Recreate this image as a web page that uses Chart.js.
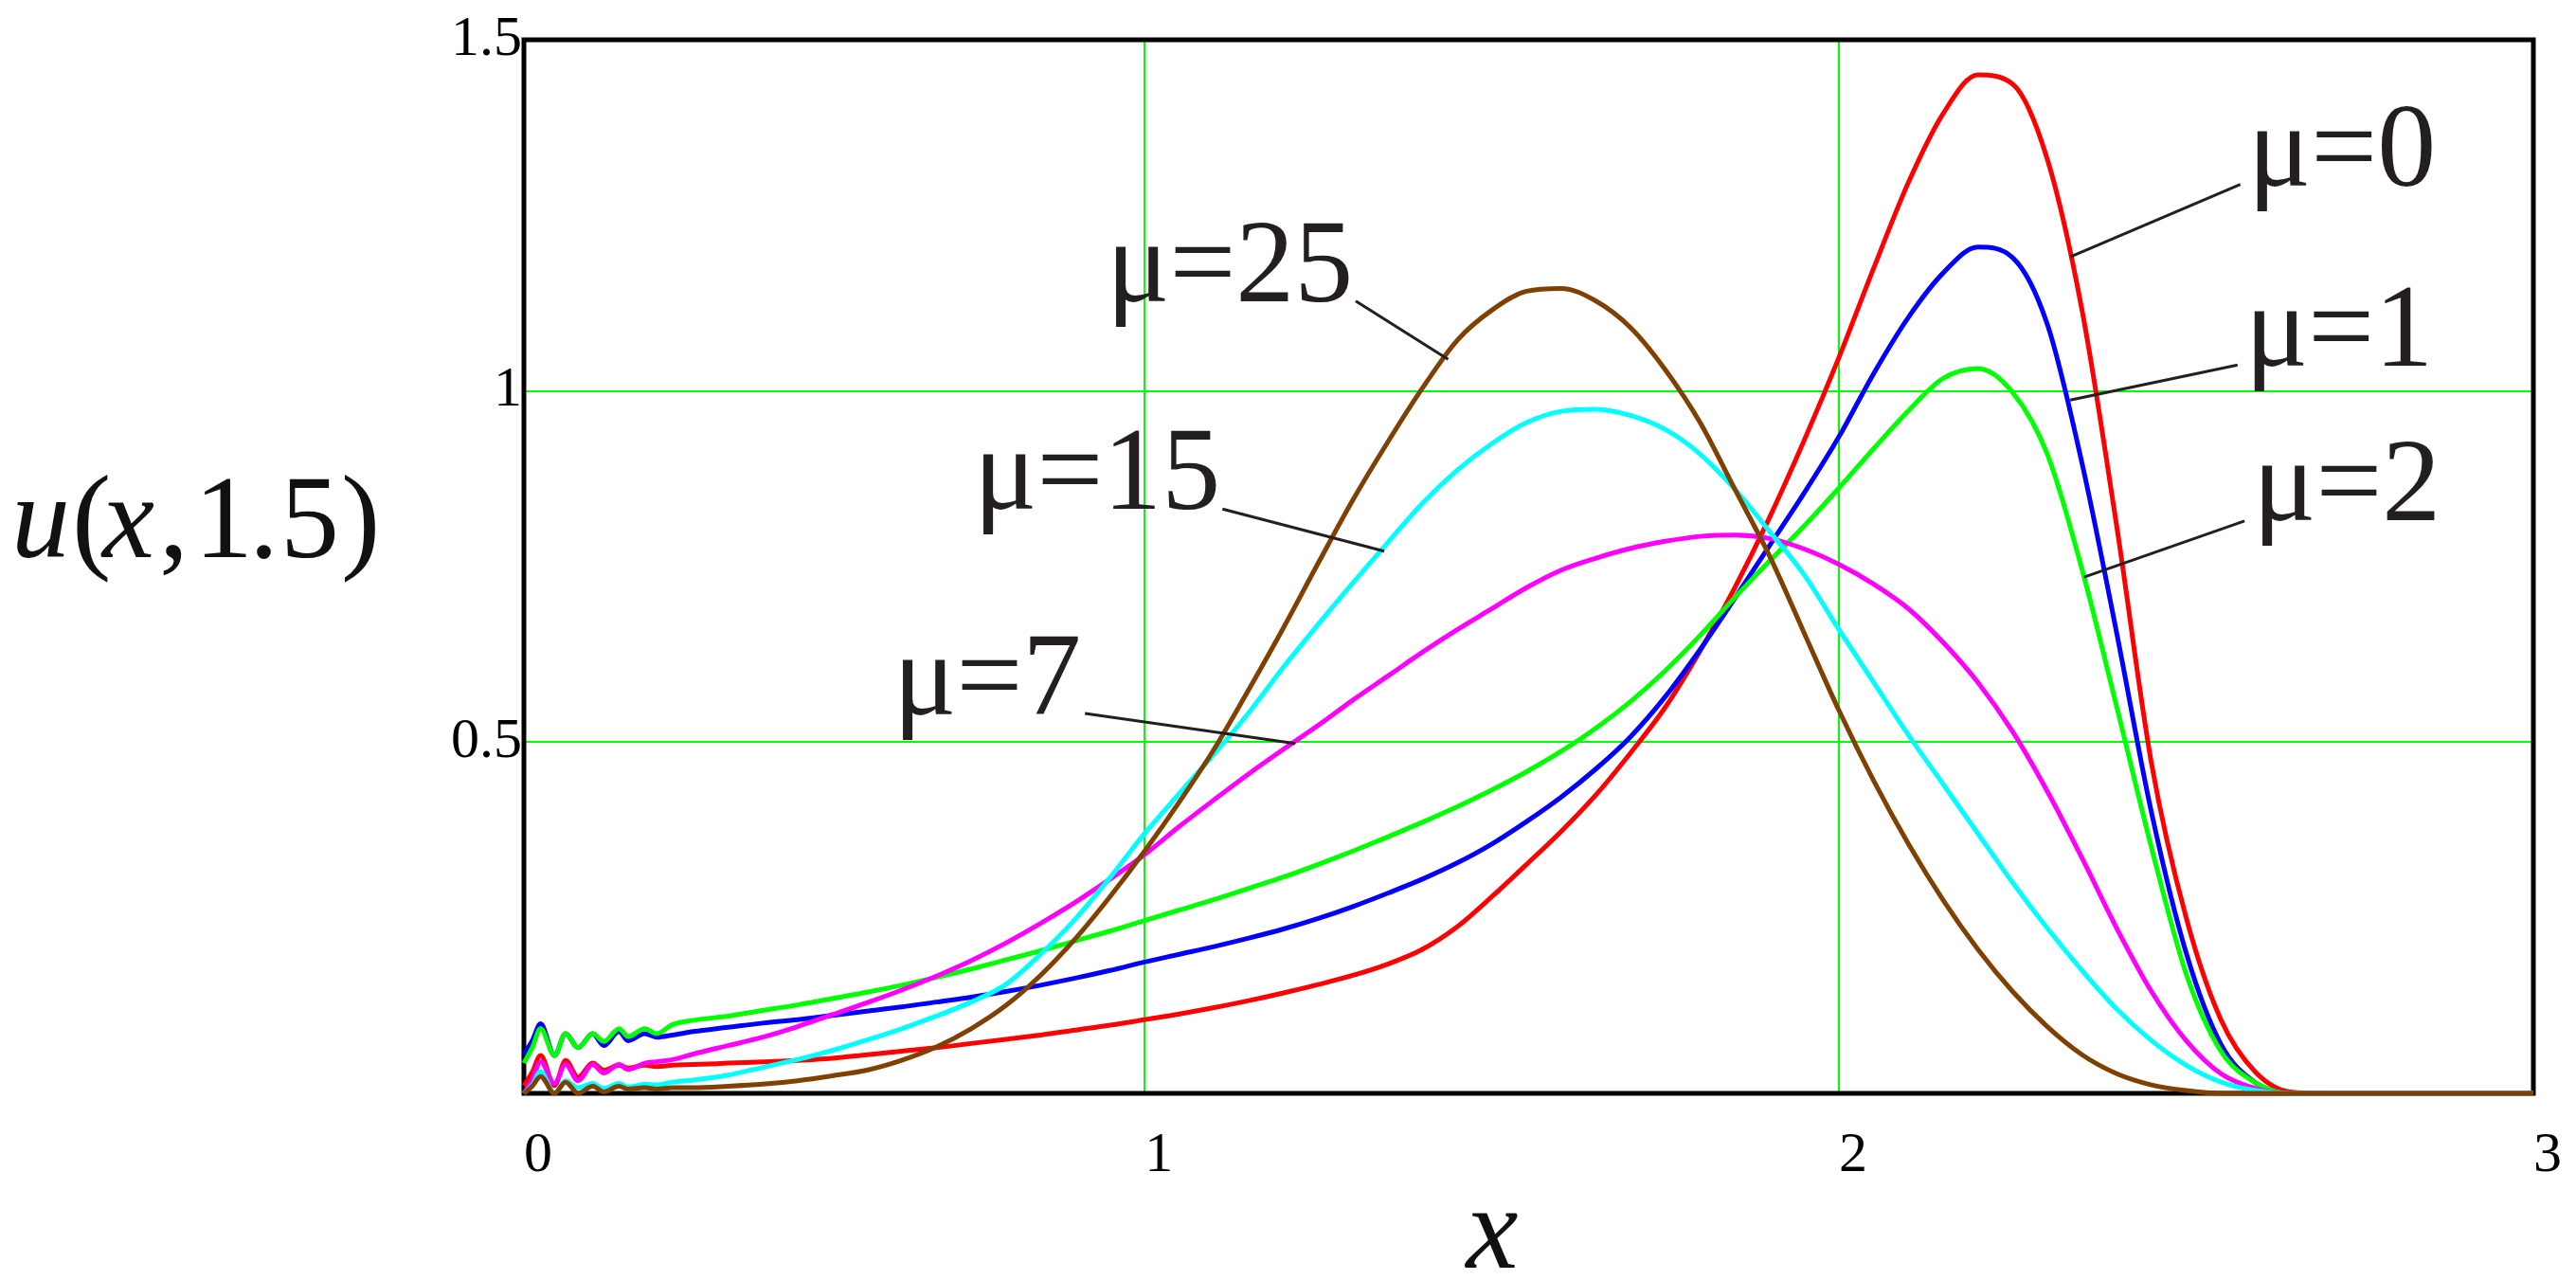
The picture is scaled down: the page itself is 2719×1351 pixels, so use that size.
<!DOCTYPE html>
<html>
<head>
<meta charset="utf-8">
<script src="https://cdn.jsdelivr.net/npm/chart.js@4.4.0/dist/chart.umd.min.js"></script>
<style>
  html, body { margin: 0; padding: 0; background: #fff; overflow: hidden; }
  #wrap { width: 2719px; height: 1351px; }
</style>
</head>
<body>
<div id="wrap"><canvas id="chart" width="2719" height="1351"></canvas></div>
<script>
// ---- data ----
const xGrid = [
  0.106, 0.118, 0.130, 0.150, 0.166, 0.184, 0.205, 0.221, 0.243, 0.256, 0.280, 0.297,
  0.32, 0.35, 0.40, 0.45, 0.50, 0.55, 0.60, 0.65, 0.70, 0.75, 0.80, 0.85, 0.90, 0.95,
  1.00, 1.05, 1.10, 1.15, 1.20, 1.25, 1.30, 1.35, 1.40, 1.45, 1.50, 1.55, 1.60, 1.65,
  1.70, 1.75, 1.80, 1.85, 1.90, 1.95, 2.00, 2.05, 2.10, 2.15, 2.20, 2.25, 2.30, 2.35,
  2.40, 2.45, 2.50, 2.55, 2.60, 2.65, 2.70, 3.00
];

const uMu0 = [
  0.011, 0.030, 0.054, 0.011, 0.047, 0.023, 0.043, 0.033, 0.040, 0.036, 0.040, 0.038,
  0.040, 0.041, 0.043, 0.045, 0.047, 0.050, 0.055, 0.060, 0.065, 0.071, 0.077, 0.083, 0.090, 0.097,
  0.105, 0.113, 0.122, 0.132, 0.143, 0.155, 0.168, 0.184, 0.205, 0.237, 0.280, 0.326, 0.373, 0.425,
  0.485, 0.550, 0.630, 0.720, 0.820, 0.930, 1.048, 1.175, 1.297, 1.395, 1.450, 1.437, 1.330, 1.115,
  0.807, 0.470, 0.250, 0.105, 0.030, 0.002, 0, 0
];
const uMu1 = [
  0.055, 0.075, 0.099, 0.054, 0.085, 0.065, 0.085, 0.068, 0.088, 0.075, 0.085, 0.080,
  0.083, 0.088, 0.094, 0.100, 0.105, 0.111, 0.117, 0.123, 0.130, 0.137, 0.145, 0.154, 0.164, 0.175,
  0.187, 0.198, 0.209, 0.221, 0.234, 0.249, 0.266, 0.285, 0.305, 0.328, 0.355, 0.387, 0.422, 0.462,
  0.508, 0.565, 0.632, 0.705, 0.780, 0.855, 0.935, 1.025, 1.105, 1.168, 1.205, 1.190, 1.095, 0.897,
  0.655, 0.400, 0.200, 0.070, 0.015, 0, 0, 0
];
const uMu2 = [
  0.043, 0.065, 0.092, 0.054, 0.085, 0.065, 0.085, 0.074, 0.092, 0.081, 0.092, 0.085,
  0.098, 0.104, 0.110, 0.118, 0.126, 0.135, 0.144, 0.154, 0.165, 0.177, 0.190, 0.203, 0.217, 0.231,
  0.246, 0.261, 0.276, 0.292, 0.308, 0.326, 0.345, 0.365, 0.386, 0.408, 0.432, 0.458, 0.487, 0.520,
  0.558, 0.602, 0.652, 0.706, 0.758, 0.808, 0.862, 0.918, 0.972, 1.018, 1.032, 0.998, 0.910, 0.746,
  0.550, 0.350, 0.170, 0.060, 0.015, 0, 0, 0
];
const uMu7 = [
  0.000, 0.020, 0.045, 0.014, 0.041, 0.018, 0.041, 0.029, 0.041, 0.034, 0.043, 0.045,
  0.048, 0.056, 0.068, 0.080, 0.095, 0.112, 0.129, 0.147, 0.167, 0.189, 0.214, 0.242, 0.272, 0.305,
  0.340, 0.380, 0.418, 0.455, 0.490, 0.524, 0.560, 0.594, 0.628, 0.660, 0.690, 0.720, 0.745, 0.762,
  0.776, 0.786, 0.793, 0.795, 0.790, 0.775, 0.753, 0.725, 0.690, 0.642, 0.585, 0.515, 0.430, 0.335,
  0.235, 0.145, 0.075, 0.028, 0.007, 0, 0, 0
];
const uMu15 = [
  0.000, 0.012, 0.031, 0.000, 0.018, 0.008, 0.014, 0.007, 0.014, 0.009, 0.013, 0.012,
  0.016, 0.019, 0.026, 0.037, 0.048, 0.061, 0.076, 0.092, 0.110, 0.130, 0.155, 0.198, 0.248, 0.307,
  0.370, 0.427, 0.483, 0.542, 0.607, 0.668, 0.727, 0.784, 0.840, 0.887, 0.925, 0.955, 0.971, 0.974,
  0.965, 0.945, 0.910, 0.860, 0.800, 0.738, 0.660, 0.585, 0.510, 0.440, 0.370, 0.300, 0.235, 0.175,
  0.120, 0.075, 0.040, 0.016, 0.004, 0, 0, 0
];
const uMu25 = [
  0, 0.010, 0.024, 0, 0.016, 0, 0.010, 0.002, 0.010, 0.006, 0.008, 0.006,
  0.008, 0.008, 0.010, 0.013, 0.018, 0.025, 0.033, 0.047, 0.066, 0.092, 0.125, 0.168, 0.220, 0.280,
  0.345, 0.415, 0.490, 0.575, 0.663, 0.755, 0.845, 0.927, 1.004, 1.072, 1.115, 1.142, 1.146, 1.128,
  1.090, 1.030, 0.955, 0.860, 0.765, 0.655, 0.545, 0.445, 0.355, 0.275, 0.205, 0.145, 0.095, 0.055,
  0.028, 0.012, 0.004, 0, 0, 0, 0, 0
];

const seriesLabels = ['μ=0', 'μ=1', 'μ=2', 'μ=7', 'μ=15', 'μ=25'];
const seriesValues = [uMu0, uMu1, uMu2, uMu7, uMu15, uMu25];
const seriesColors = ['#ff0000', '#0000ff', '#00ff00', '#ff00ff', '#00ffff', '#804000'];

const xTickValues = [0.106, 1, 2, 3];
const xTickLabels = ['0', '1', '2', '3'];
const yTickValues = [0, 0.5, 1, 1.5];
const yTickLabels = ['', '0.5', '1', '1.5'];

// callouts: label anchor (left, baseline) and leader line, in axis units
const callouts = [
  { text: 'μ=0',  at: [2.589, 1.292], from: [2.578, 1.294], to: [2.333, 1.191] },
  { text: 'μ=1',  at: [2.585, 1.036], from: [2.574, 1.037], to: [2.333, 0.987] },
  { text: 'μ=2',  at: [2.596, 0.816], from: [2.584, 0.815], to: [2.353, 0.735] },
  { text: 'μ=25', at: [0.945, 1.128], from: [1.304, 1.128], to: [1.437, 1.045] },
  { text: 'μ=15', at: [0.754, 0.832], from: [1.112, 0.832], to: [1.345, 0.772] },
  { text: 'μ=7',  at: [0.638, 0.540], from: [0.914, 0.541], to: [1.217, 0.498] }
];

const SERIF = "'Liberation Serif', 'DejaVu Serif', serif";
const INK = '#231f20';

const decorations = {
  id: 'decorations',
  beforeDatasetsDraw(chart) {
    const { ctx, chartArea: a } = chart;
    ctx.save();
    ctx.lineWidth = 5;
    ctx.strokeStyle = '#000';
    ctx.strokeRect(a.left, a.top, a.right - a.left, a.bottom - a.top);
    ctx.restore();
  },
  afterDatasetsDraw(chart) {
    const { ctx } = chart;
    const xs = chart.scales.x, ys = chart.scales.y;
    const px = v => xs.getPixelForValue(v);
    const py = v => ys.getPixelForValue(v);
    ctx.save();
    ctx.strokeStyle = INK;
    ctx.fillStyle = INK;
    ctx.lineWidth = 3;
    ctx.font = '124px ' + SERIF;
    ctx.textAlign = 'left';
    ctx.textBaseline = 'alphabetic';
    callouts.forEach(c => {
      ctx.beginPath();
      ctx.moveTo(px(c.from[0]), py(c.from[1]));
      ctx.lineTo(px(c.to[0]), py(c.to[1]));
      ctx.stroke();
      ctx.fillText(c.text, px(c.at[0]), py(c.at[1]));
    });

    // axis titles
    ctx.fillStyle = '#111';
    const glyphs = [
      ['u', 12, true], ['(', 76, false], ['x', 108, true], [',', 168, false],
      ['1', 205, false], ['.', 263, false], ['5', 296, false], [')', 360, false]
    ];
    glyphs.forEach(([g, x, it]) => {
      ctx.font = (it ? 'italic ' : '') + '124px ' + SERIF;
      ctx.fillText(g, x, 588);
    });
    ctx.font = 'italic 124px ' + SERIF;
    ctx.textAlign = 'center';
    ctx.fillText('x', 1575, 1338);
    ctx.restore();
  }
};

const order = [6, 5, 4, 3, 2, 1];

new Chart(document.getElementById('chart'), {
  type: 'line',
  data: {
    datasets: seriesLabels.map((label, i) => ({
      label,
      data: xGrid.map((x, k) => ({ x, y: seriesValues[i][k] })),
      borderColor: seriesColors[i],
      borderWidth: 5,
      pointRadius: 0,
      fill: false,
      tension: 0,
      cubicInterpolationMode: 'monotone',
      order: order[i],
      clip: 4
    }))
  },
  options: {
    responsive: false,
    animation: false,
    devicePixelRatio: 1,
    layout: { padding: { left: 0, right: 45, top: 42, bottom: 0 } },
    plugins: { legend: { display: false }, tooltip: { enabled: false } },
    scales: {
      x: {
        type: 'linear',
        min: xTickValues[0],
        max: 3,
        afterBuildTicks: s => { s.ticks = xTickValues.map(v => ({ value: v })); },
        afterFit: s => { s.height = 197; s.paddingLeft = 0; s.paddingRight = 0; },
        border: { display: false },
        grid: { color: '#00ff00', lineWidth: 2, drawTicks: false },
        ticks: {
          autoSkip: false,
          maxRotation: 0,
          align: 'start',
          padding: 30,
          color: '#000',
          font: { family: SERIF, size: 60 },
          callback: (v, i) => xTickLabels[i]
        }
      },
      y: {
        min: 0,
        max: 1.5,
        afterBuildTicks: s => { s.ticks = yTickValues.map(v => ({ value: v })); },
        afterFit: s => { s.width = 553; s.paddingTop = 0; s.paddingBottom = 0; },
        border: { display: false },
        grid: { color: '#00ff00', lineWidth: 2, drawTicks: false },
        ticks: {
          autoSkip: false,
          padding: 2,
          color: '#000',
          font: { family: SERIF, size: 60 },
          callback: (v, i) => yTickLabels[i]
        }
      }
    }
  },
  plugins: [decorations]
});
</script>
</body>
</html>
